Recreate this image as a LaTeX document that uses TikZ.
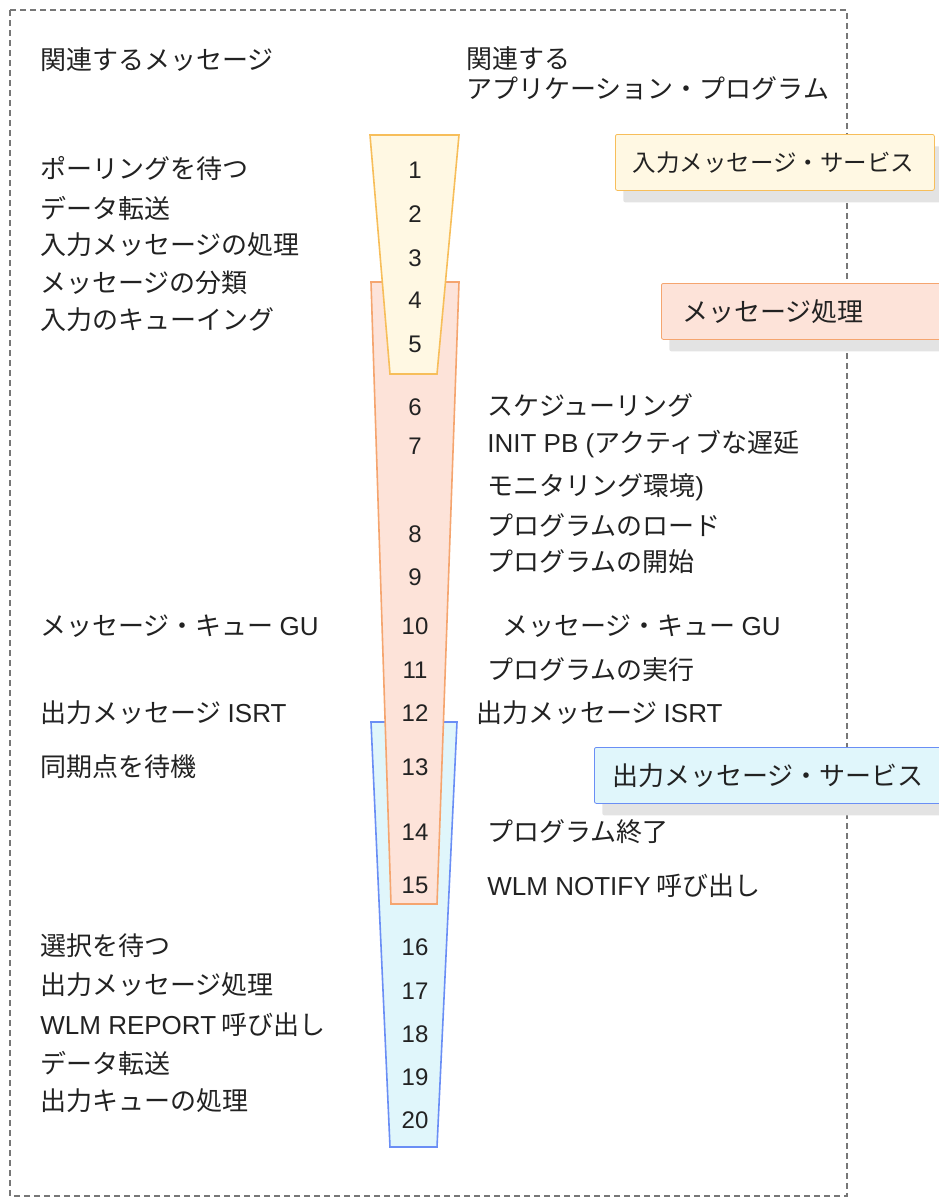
\documentclass[tikz,border=0pt]{standalone}
\usepackage{fontspec}
\newfontfamily\jp{Noto Sans CJK JP}
\newfontfamily\lat{Liberation Sans}
\usetikzlibrary{shadows}
\definecolor{txt}{HTML}{222222}
\definecolor{inFill}{HTML}{FFF8E3}
\definecolor{inLine}{HTML}{F7BE5A}
\definecolor{prFill}{HTML}{FDE3D9}
\definecolor{prLine}{HTML}{F5A56F}
\definecolor{outFill}{HTML}{E0F6FB}
\definecolor{outLine}{HTML}{6A8EF5}
\definecolor{frameLine}{HTML}{777777}
\newcommand{\en}[1]{{\lat\fontsize{13}{15}\selectfont #1}}

\begin{document}
\begin{tikzpicture}[x=0.5pt, y=-0.5pt,
  lbl/.style={anchor=west, inner sep=0pt, text=txt, font=\jp\fontsize{13}{15}\selectfont},
  num/.style={inner sep=0pt, text=txt, font=\lat\fontsize{12}{14}\selectfont},
  svc/.style={draw, rounded corners=1pt, anchor=north west, minimum height=28pt,
              align=left, inner xsep=9pt, text=txt, font=\jp\fontsize{13}{15}\selectfont,
              drop shadow={shadow xshift=4pt, shadow yshift=-6pt, fill=black!11, opacity=1}},
]
  \useasboundingbox (0,0) rectangle (938,1199);

  % frame
  \draw[frameLine, dash pattern=on 3pt off 2pt, line width=0.6pt] (10,10) rectangle (847,1196);

  % funnels, back to front
  \filldraw[fill=outFill, draw=outLine, line width=0.8pt] (371,722) -- (457,722) -- (437,1147) -- (390,1147) -- cycle;
  \filldraw[fill=prFill, draw=prLine, line width=0.8pt] (371,282) -- (459,282) -- (437,904) -- (391,904) -- cycle;
  \filldraw[fill=inFill, draw=inLine, line width=0.8pt] (370,135) -- (459,135) -- (437,374) -- (390,374) -- cycle;

  % step numbers
  \foreach \n/\y in {1/170, 2/214, 3/258, 4/300, 5/344, 6/407, 7/446, 8/534, 9/577, 10/626,
                     11/670, 12/713, 13/767, 14/832, 15/885, 16/947, 17/991, 18/1034, 19/1077, 20/1120}
    \node[num] (n\n) at (415,\y) {\n};

  % services
  \node[svc, fill=inFill, draw=inLine, text width=142pt, inner xsep=8.75pt,
        font=\jp\fontsize{11.75}{14}\selectfont] (insvc) at (615,134) {入力メッセージ・サービス};
  \node[svc, fill=prFill, draw=prLine, text width=150pt, inner xsep=10.5pt] (prsvc) at (661,283) {メッセージ処理};
  \node[svc, fill=outFill, draw=outLine, text width=170pt] (outsvc) at (594,747) {出力メッセージ・サービス};

  % headers
  \node[lbl] (hmsg) at (40,60) {関連するメッセージ};
  \node[lbl, anchor=north west, align=left] (happ) at (466,46) {関連する\\アプリケーション・プログラム};

  % messages
  \node[lbl] (m1)  at (40,168)  {ポーリングを待つ};
  \node[lbl] (m2)  at (40,208)  {データ転送};
  \node[lbl] (m3)  at (40,245)  {入力メッセージの処理};
  \node[lbl] (m4)  at (40,283)  {メッセージの分類};
  \node[lbl] (m5)  at (40,320)  {入力のキューイング};
  \node[lbl] (m10) at (40,626)  {メッセージ・キュー \en{GU}};
  \node[lbl] (m12) at (40,713)  {出力メッセージ \en{ISRT}};
  \node[lbl] (m13) at (40,767)  {同期点を待機};
  \node[lbl] (m16) at (40,946)  {選択を待つ};
  \node[lbl] (m17) at (40,985)  {出力メッセージ処理};
  \node[lbl] (m18) at (40,1025) {\en{WLM REPORT} 呼び出し};
  \node[lbl] (m19) at (40,1063) {データ転送};
  \node[lbl] (m20) at (40,1101) {出力キューの処理};

  % application program
  \node[lbl] (a6)  at (487,405) {スケジューリング};
  \node[lbl] (a7)  at (487,444) {\en{INIT PB (}アクティブな遅延};
  \node[lbl] (a7b) at (487,487) {モニタリング環境\en{)}};
  \node[lbl] (a8)  at (487,525) {プログラムのロード};
  \node[lbl] (a9)  at (487,562) {プログラムの開始};
  \node[lbl] (a10) at (502,626) {メッセージ・キュー \en{GU}};
  \node[lbl] (a11) at (487,670) {プログラムの実行};
  \node[lbl] (a12) at (476,713) {出力メッセージ \en{ISRT}};
  \node[lbl] (a14) at (487,832) {プログラム終了};
  \node[lbl] (a15) at (487,886) {\en{WLM NOTIFY} 呼び出し};
\end{tikzpicture}
\end{document}
